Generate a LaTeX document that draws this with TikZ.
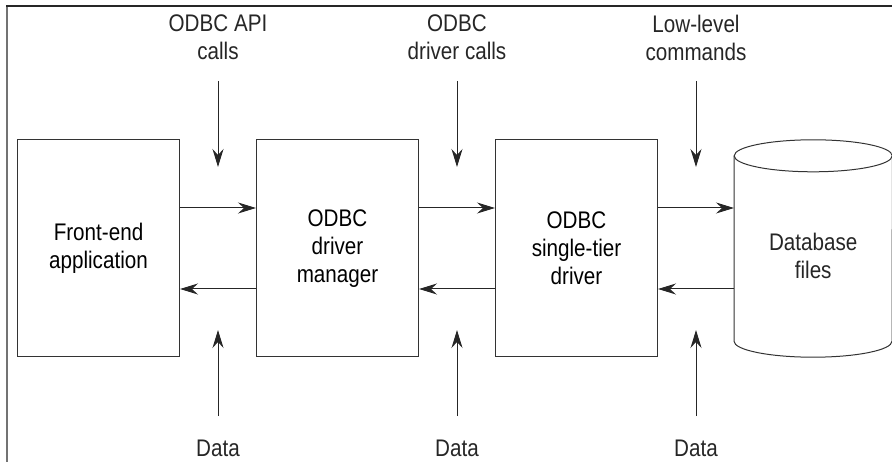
\documentclass[tikz,border=0pt]{standalone}
\usepackage{fontspec}
\setmainfont[FakeStretch=0.86]{Liberation Sans}
\usetikzlibrary{positioning,arrows.meta,calc}

\begin{document}
\begin{tikzpicture}[
    x=1pt, y=-1pt,
    font=\fontsize{24}{28}\selectfont,
    box/.style={draw=black!80, line width=1pt, minimum width=162pt, minimum height=217pt, align=center, inner sep=0pt},
    dbbox/.style={minimum width=158pt, minimum height=217pt, inner sep=0pt},
    dbline/.style={draw=black!80, line width=1pt},
    arrow/.style={-{Stealth[length=18pt, width=11pt, inset=6pt]}, line width=1pt, draw=black!85},
    txt/.style={align=center, inner sep=0pt, text=black!85}
]
\useasboundingbox (0,0) rectangle (892,462);

% ===== Frame =====
\draw[black!55, line width=2pt] (7,462) -- (7,6);
\draw[black!85, line width=1.3pt] (6,6) -- (892,6);

% ===== Blocks =====
\node[box] (app) at (98.5,248.5) {Front-end\\application};
\node[box, right=76pt of app] (mgr) {ODBC\\driver\\manager};
\node[box, right=76pt of mgr] (drv) {ODBC\\single-tier\\driver};

% ===== Database (cylinder) =====
\node[dbbox, right=76pt of drv] (db) {};
\draw[dbline] ([yshift=-16pt]db.north) ellipse [x radius=79pt, y radius=16pt];
\draw[dbline] ([yshift=-16pt]db.north west) -- ([yshift=16pt]db.south west)
    arc[start angle=180, end angle=360, x radius=79pt, y radius=16pt] -- ([yshift=-16pt]db.north east);
\node[txt] (dbtxt) at ([yshift=-7pt]db.center) {Database\\files};

% ===== Arrows between blocks =====
\foreach \g/\a/\b in {g1/app/mgr, g2/mgr/drv, g3/drv/db} {
    \coordinate (\g) at ($(\a.east)!.5!(\b.west)$);
    \coordinate (\g-top) at ([yshift=167.5pt]\g);
    \coordinate (\g-in) at ([yshift=81.5pt]\g);
    \coordinate (\g-out) at ([yshift=-81.5pt]\g);
    \coordinate (\g-bot) at ([yshift=-167.5pt]\g);
    \draw[arrow] ([yshift=40.5pt]\a.east) -- ([yshift=40.5pt]\b.west);
    \draw[arrow] ([yshift=-40.5pt]\b.west) -- ([yshift=-40.5pt]\a.east);
    \draw[arrow] (\g-top) -- (\g-in);
    \draw[arrow] (\g-bot) -- (\g-out);
    \node[txt] (\g-data) at ([yshift=-199.5pt]\g) {Data};
}

% ===== Top labels =====
\node[txt] (apicalls) at ([yshift=211pt]g1) {ODBC API\\calls};
\node[txt] (drvcalls) at ([yshift=211pt]g2) {ODBC\\driver calls};
\node[txt] (lowlevel) at ([yshift=211pt]g3) {Low-level\\commands};

\end{tikzpicture}
\end{document}
